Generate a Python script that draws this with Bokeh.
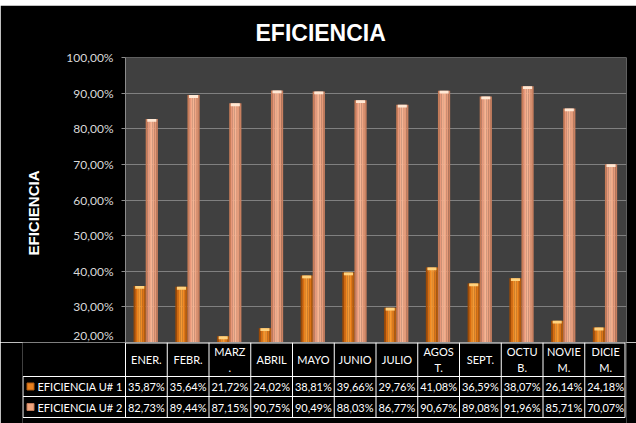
from bokeh.plotting import figure
from bokeh.models import Range1d, FixedTicker, ColumnDataSource, Title, Spacer
from bokeh.embed import file_html
from bokeh.resources import INLINE
from bokeh.core.properties import value

# ---------------- data ----------------
categories = ["ENER.", "FEBR.", "MARZ.", "ABRIL", "MAYO", "JUNIO",
              "JULIO", "AGOST.", "SEPT.", "OCTUB.", "NOVIEM.", "DICIEM."]
header_labels = ["ENER.", "FEBR.", "MARZ\n.", "ABRIL", "MAYO", "JUNIO",
                 "JULIO", "AGOS\nT.", "SEPT.", "OCTU\nB.", "NOVIE\nM.", "DICIE\nM."]
series_names = ["EFICIENCIA U# 1", "EFICIENCIA U# 2"]
eff_u1 = [35.87, 35.64, 21.72, 24.02, 38.81, 39.66, 29.76, 41.08, 36.59, 38.07, 26.14, 24.18]
eff_u2 = [82.73, 89.44, 87.15, 90.75, 90.49, 88.03, 86.77, 90.67, 89.08, 91.96, 85.71, 70.07]
y_ticks = [20, 30, 40, 50, 60, 70, 80, 90, 100]
y_tick_labels = ["20,00%", "30,00%", "40,00%", "50,00%", "60,00%",
                 "70,00%", "80,00%", "90,00%", "100,00%"]
title_text = "EFICIENCIA"
y_title = "EFICIENCIA"

# ---------------- style ----------------
W = 636
TOP_PAD = 5
TOP_H = 337
TAB_H = 81
LEFT = 125
RIGHT = 10
TAB_LEFT = 22
n = len(categories)
col_px = (W - LEFT - RIGHT) / n
LEG = (LEFT - TAB_LEFT) / col_px

pal1 = ["#9c4a06", "#d86c10", "#f08a22", "#f59a34", "#ef8c26", "#dc7416", "#b45c0c"]
pal2 = ["#c77c58", "#e8987a", "#f3ab8a", "#f6b594", "#f0a684", "#e59a78", "#c98060"]
cap1 = "#ffd27e"
cap2 = "#ffe8d4"
mark1 = "#e8801e"
mark2 = "#f0a57e"

pad = Spacer(width=W, height=TOP_PAD)

p = figure(width=W, height=TOP_H, x_range=Range1d(0, n), y_range=Range1d(20, 100),
           output_backend="svg", toolbar_location=None,
           min_border_left=LEFT, min_border_right=RIGHT, min_border_top=52,
           min_border_bottom=0, x_axis_location=None)
p.background_fill_color = "#404040"
p.border_fill_color = "black"
p.outline_line_color = None

p.title.text = title_text
p.title.text_color = "white"
p.title.text_font = "Liberation Sans"
p.title.text_font_style = "bold"
p.title.text_font_size = "23px"
p.title.align = "left"
p.title.offset = 130
p.title.standoff = 24

p.xgrid.grid_line_color = None
p.ygrid.grid_line_color = "#808080"
p.ygrid.grid_line_width = 1

ax = p.yaxis[0]
ax.ticker = FixedTicker(ticks=y_ticks)
ax.major_label_overrides = {t: l for t, l in zip(y_ticks, y_tick_labels)}
ax.major_label_text_color = "#d9d9d9"
ax.major_label_text_font = "Lato"
ax.major_label_text_font_size = "12px"
ax.major_label_standoff = 8
ax.major_tick_out = 4
ax.major_tick_in = 0
ax.minor_tick_line_color = None
ax.major_tick_line_color = "#8c8c8c"
ax.axis_line_color = "#8c8c8c"

ytitle = Title(text=y_title, align="left", offset=87, text_color="white",
               text_font="Liberation Sans", text_font_style="bold", text_font_size="15px",
               standoff=44)
p.add_layout(ytitle, "left")

w = 0.29
offs = [0.34, 0.63]
for vals, off, pal, cap in ((eff_u1, offs[0], pal1, cap1), (eff_u2, offs[1], pal2, cap2)):
    N = len(pal)
    sw = w / N
    for k, c in enumerate(pal):
        xs = [i + off - w / 2 + (k + 0.5) * sw for i in range(n)]
        src = ColumnDataSource(dict(x=xs, top=vals))
        p.vbar(x="x", width=sw * 1.05, top="top", bottom=20, source=src,
               fill_color=c, line_color=None)
    src = ColumnDataSource(dict(x=[i + off for i in range(n)], top=vals,
                                bot=[v - 0.8 for v in vals]))
    p.vbar(x="x", width=w * 0.75, top="top", bottom="bot", source=src,
           fill_color=cap, line_color=None)

# ---------------- table ----------------
t = figure(width=W, height=TAB_H, x_range=Range1d(-LEG, n), y_range=Range1d(TAB_H, 0),
           output_backend="svg", toolbar_location=None,
           min_border_left=TAB_LEFT, min_border_right=RIGHT, min_border_top=0,
           min_border_bottom=0, x_axis_location=None, y_axis_location=None)
t.background_fill_color = "black"
t.border_fill_color = "black"
t.outline_line_color = None
t.grid.visible = False

eps = 0.5 / col_px
xr = n - 1.5 / col_px
t.segment(x0=[0], y0=[0.5], x1=[xr], y1=[0.5], line_color="white", line_width=1)
t.segment(x0=[-LEG + eps] * 3, y0=[34, 54, 75], x1=[xr] * 3, y1=[34, 54, 75],
          line_color="white", line_width=1)
vx = [float(i) for i in range(n)] + [xr]
t.segment(x0=vx, y0=[0] * len(vx), x1=vx, y1=[75] * len(vx), line_color="white", line_width=1)
t.segment(x0=[-LEG + eps], y0=[34], x1=[-LEG + eps], y1=[75], line_color="white", line_width=1)

cx = [i + 0.5 for i in range(n)]
t.text(x=cx, y=[17] * n, text=header_labels, text_color="white", text_font=value("Lato"),
       text_font_size="11px", text_align="center", text_baseline="middle", text_line_height=1.2)

def fmt(v):
    return f"{v:.2f}".replace(".", ",") + "%"

rows_y = [44, 64.5]
for vals, yy in zip((eff_u1, eff_u2), rows_y):
    t.text(x=cx, y=[yy] * n, text=[fmt(v) for v in vals], text_color="white",
           text_font=value("Lato"), text_font_size="11px", text_align="center",
           text_baseline="middle")

t.rect(x=[-LEG + 8 / col_px] * 2, y=rows_y, width=7, height=7, width_units="screen",
       height_units="screen", fill_color=[mark1, mark2], line_color=["#b05a10", "#c07a58"])
t.text(x=[-LEG + 15 / col_px] * 2, y=rows_y, text=series_names, text_color="white",
       text_font=value("Lato"), text_font_size="11px", text_align="left", text_baseline="middle")

open("out.html", "w").write(file_html([pad, p, t], INLINE))
